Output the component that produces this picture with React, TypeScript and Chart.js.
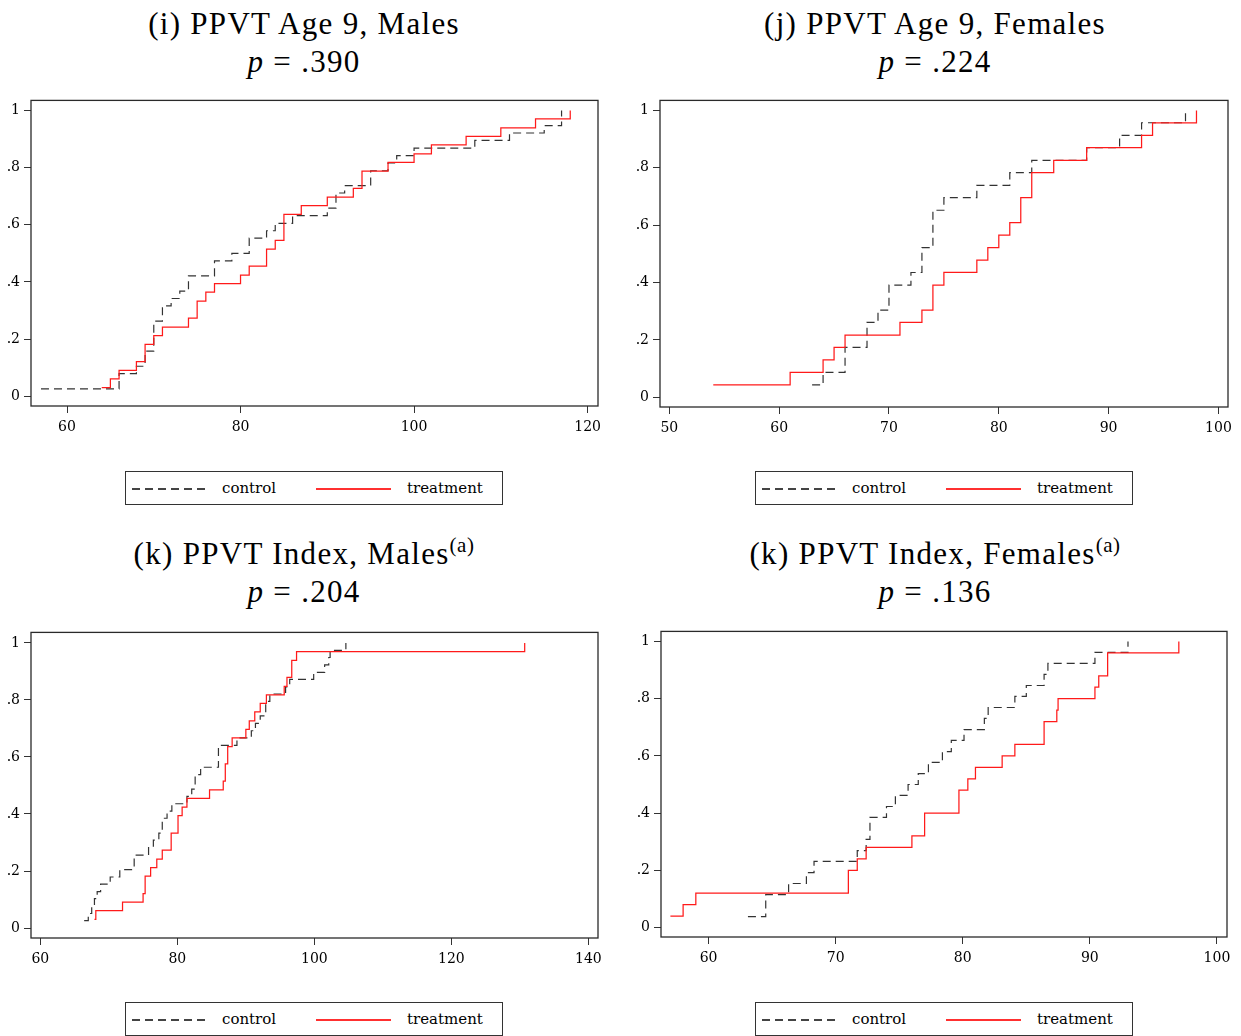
import React, { useEffect, useRef } from "react";
import { Chart, registerables } from "chart.js";

Chart.register(...registerables);

// ---------------- DATA ----------------
const yTicks = [0, 0.2, 0.4, 0.6, 0.8, 1];

// (i) PPVT Age 9, Males
const iXTicks = [60, 80, 100, 120];
const iControlX = [57, 66, 68, 69, 70, 71, 72, 73, 74, 77, 79, 81, 83, 84, 86, 90, 91, 92, 95, 97, 98, 100, 107, 111, 115, 117];
const iControlF = [0.026, 0.079, 0.105, 0.158, 0.263, 0.316, 0.342, 0.368, 0.421, 0.474, 0.5, 0.553, 0.579, 0.605, 0.632, 0.658, 0.711, 0.737, 0.789, 0.816, 0.842, 0.868, 0.895, 0.921, 0.947, 1.0];
const iTreatX = [64, 65, 66, 68, 69, 70, 71, 74, 75, 76, 77, 80, 81, 83, 84, 85, 87, 90, 93, 94, 97, 100, 102, 106, 110, 114, 118];
const iTreatF = [0.03, 0.061, 0.091, 0.121, 0.182, 0.212, 0.242, 0.273, 0.333, 0.364, 0.394, 0.424, 0.455, 0.515, 0.545, 0.636, 0.667, 0.697, 0.727, 0.788, 0.818, 0.848, 0.879, 0.909, 0.939, 0.97, 1.0];

// (j) PPVT Age 9, Females
const jXTicks = [50, 60, 70, 80, 90, 100];
const jControlX = [63, 64, 66, 68, 69, 70, 72, 73, 74, 75, 78, 81, 83, 88, 91, 93, 97];
const jControlF = [0.043, 0.087, 0.174, 0.261, 0.304, 0.391, 0.435, 0.522, 0.652, 0.696, 0.739, 0.783, 0.826, 0.87, 0.913, 0.957, 1.0];
const jTreatX = [54, 61, 64, 65, 66, 71, 73, 74, 75, 78, 79, 80, 81, 82, 83, 85, 88, 93, 94, 98];
const jTreatF = [0.043, 0.087, 0.13, 0.174, 0.217, 0.261, 0.304, 0.391, 0.435, 0.478, 0.522, 0.565, 0.609, 0.696, 0.783, 0.826, 0.87, 0.913, 0.957, 1.0];

// (k) PPVT Index, Males
const kmXTicks = [60, 80, 100, 120, 140];
const kmControlX = [66.4, 67.0, 67.5, 67.9, 68.3, 68.8, 70.2, 71.6, 73.7, 75.8, 76.5, 77.3, 77.8, 78.5, 79.2, 81.4, 82.1, 82.6, 83.4, 86.0, 88.7, 90.8, 91.4, 92.1, 92.9, 93.5, 95.8, 96.4, 99.9, 101.5, 102.1, 102.3, 104.6];
const kmControlF = [0.026, 0.051, 0.077, 0.103, 0.128, 0.154, 0.179, 0.205, 0.256, 0.282, 0.308, 0.333, 0.385, 0.41, 0.436, 0.462, 0.487, 0.538, 0.564, 0.641, 0.667, 0.692, 0.718, 0.744, 0.795, 0.821, 0.846, 0.872, 0.897, 0.923, 0.949, 0.974, 1.0];
const kmTreatX = [67.9, 68.1, 72.0, 75.0, 75.3, 76.1, 77.0, 77.8, 79.1, 80.1, 80.7, 81.4, 84.7, 86.7, 87.0, 87.35, 88.0, 90.0, 90.5, 91.3, 92.1, 93.0, 95.6, 96.0, 96.7, 97.4, 130.7];
const kmTreatF = [0.03, 0.061, 0.091, 0.121, 0.182, 0.212, 0.242, 0.273, 0.333, 0.394, 0.424, 0.455, 0.485, 0.515, 0.576, 0.636, 0.667, 0.697, 0.727, 0.758, 0.788, 0.818, 0.848, 0.879, 0.939, 0.97, 1.0];

// (k) PPVT Index, Females
const kfXTicks = [60, 70, 80, 90, 100];
const kfControlX = [63.1, 64.5, 66.3, 67.7, 68.3, 71.7, 72.4, 72.7, 74.0, 74.7, 75.7, 76.5, 77.3, 78.4, 79.1, 80.1, 81.7, 82.0, 84.1, 85.0, 86.4, 86.7, 90.4, 93.0];
const kfControlF = [0.038, 0.115, 0.154, 0.192, 0.231, 0.269, 0.308, 0.385, 0.423, 0.462, 0.5, 0.538, 0.577, 0.615, 0.654, 0.692, 0.731, 0.769, 0.808, 0.846, 0.885, 0.923, 0.962, 1.0];
const kfTreatX = [57, 58, 59, 71.0, 71.7, 72.4, 76.0, 77.0, 79.7, 80.4, 81.0, 83.1, 84.1, 86.4, 87.4, 87.5, 90.4, 90.7, 91.4, 97.0];
const kfTreatF = [0.04, 0.08, 0.12, 0.2, 0.24, 0.28, 0.32, 0.4, 0.48, 0.52, 0.56, 0.6, 0.64, 0.72, 0.76, 0.8, 0.84, 0.88, 0.96, 1.0];

const titles = [
  { line1: "(i) PPVT Age 9, Males", sup: "", p: ".390" },
  { line1: "(j) PPVT Age 9, Females", sup: "", p: ".224" },
  { line1: "(k) PPVT Index, Males", sup: "(a)", p: ".204" },
  { line1: "(k) PPVT Index, Females", sup: "(a)", p: ".136" },
];
const seriesNames = ["control", "treatment"];

// ---------------- LAYOUT ----------------
const AXIS_W = 36;
const AXIS_H = 40;
const PAD_T = 12;
const PAD_R = 22;
const TICK_FONT = { family: "'DejaVu Serif', serif", size: 14 };

const panels = [
  { area: { l: 31, r: 598, t: 100, b: 406 }, x: [55.85, 121.2], y: [-0.034, 1.035], xTicks: iXTicks, cx: iControlX, cf: iControlF, tx: iTreatX, tf: iTreatF, cx0: 304, titleTop: 0, legend: { l: 125, t: 471 } },
  { area: { l: 660, r: 1228, t: 100, b: 407 }, x: [49.15, 100.87], y: [-0.034, 1.035], xTicks: jXTicks, cx: jControlX, cf: jControlF, tx: jTreatX, tf: jTreatF, cx0: 935, titleTop: 0, legend: { l: 755, t: 471 } },
  { area: { l: 31, r: 598, t: 632, b: 938 }, x: [58.64, 141.4], y: [-0.035, 1.037], xTicks: kmXTicks, cx: kmControlX, cf: kmControlF, tx: kmTreatX, tf: kmTreatF, cx0: 304, titleTop: 530, legend: { l: 125, t: 1002 } },
  { area: { l: 661, r: 1227, t: 631, b: 937 }, x: [56.26, 100.79], y: [-0.033, 1.035], xTicks: kfXTicks, cx: kfControlX, cf: kfControlF, tx: kfTreatX, tf: kfTreatF, cx0: 935, titleTop: 530, legend: { l: 755, t: 1002 } },
];

const boxPlugin = {
  id: "boxBorder",
  afterDraw(chart: any) {
    const { ctx, chartArea: a } = chart;
    ctx.save();
    ctx.strokeStyle = "#2a2a2a";
    ctx.lineWidth = 1.3;
    ctx.strokeRect(a.left, a.top, a.right - a.left, a.bottom - a.top);
    ctx.restore();
  },
};

function PanelChart({ spec }: { spec: any }) {
  const ref = useRef<HTMLCanvasElement | null>(null);
  const a = spec.area;
  const w = a.r - a.l + AXIS_W + PAD_R;
  const h = a.b - a.t + PAD_T + AXIS_H;
  useEffect(() => {
    const chart = new Chart(ref.current as HTMLCanvasElement, {
      type: "line",
      data: {
        datasets: [
          {
            label: seriesNames[1],
            data: spec.tx.map((x: number, i: number) => ({ x, y: spec.tf[i] })),
            borderColor: "#ff1a1a",
            borderWidth: 1.25,
            stepped: "before",
            pointRadius: 0,
            fill: false,
            order: 0,
          },
          {
            label: seriesNames[0],
            data: spec.cx.map((x: number, i: number) => ({ x, y: spec.cf[i] })),
            borderColor: "#333333",
            borderWidth: 1.2,
            borderDash: [8, 5],
            stepped: "before",
            pointRadius: 0,
            fill: false,
            order: 1,
          },
        ],
      } as any,
      options: {
        animation: false,
        responsive: false,
        maintainAspectRatio: false,
        layout: { padding: { top: PAD_T, right: PAD_R, left: 0, bottom: 0 } },
        plugins: { legend: { display: false }, tooltip: { enabled: false }, title: { display: false } },
        scales: {
          x: {
            type: "linear",
            min: spec.x[0],
            max: spec.x[1],
            afterBuildTicks: (s: any) => {
              s.ticks = spec.xTicks.map((v: number) => ({ value: v }));
            },
            afterFit: (s: any) => {
              s.height = AXIS_H;
            },
            grid: { drawOnChartArea: false, drawTicks: true, tickLength: 7, color: "#333", lineWidth: 1 },
            border: { display: false },
            ticks: { font: TICK_FONT, color: "#000", padding: 6, maxRotation: 0, autoSkip: false, callback: (v: any) => String(v) },
          },
          y: {
            type: "linear",
            min: spec.y[0],
            max: spec.y[1],
            afterBuildTicks: (s: any) => {
              s.ticks = yTicks.map((v: number) => ({ value: v }));
            },
            afterFit: (s: any) => {
              s.width = AXIS_W;
            },
            grid: { drawOnChartArea: false, drawTicks: true, tickLength: 7, color: "#333", lineWidth: 1 },
            border: { display: false },
            ticks: {
              font: TICK_FONT,
              color: "#000",
              padding: 4,
              autoSkip: false,
              callback: (v: any) => (v === 0 ? "0" : v === 1 ? "1" : "." + Math.round(Number(v) * 10)),
            },
          },
        },
      } as any,
      plugins: [boxPlugin],
    });
    return () => chart.destroy();
  }, []);
  return (
    <canvas
      ref={ref}
      width={w}
      height={h}
      style={{ position: "absolute", left: a.l - AXIS_W, top: a.t - PAD_T, width: w, height: h }}
    />
  );
}

const TITLE_FONT = "'Liberation Serif', 'Times New Roman', serif";

function Title({ spec, t }: { spec: any; t: any }) {
  const base: React.CSSProperties = {
    position: "absolute",
    left: spec.cx0 - 310,
    width: 620,
    textAlign: "center",
    fontFamily: TITLE_FONT,
    fontSize: 31,
    lineHeight: "31px",
    letterSpacing: "1.3px",
    color: "#000",
    whiteSpace: "nowrap",
  };
  return (
    <>
      <div style={{ ...base, top: spec.titleTop + 8 }}>
        {t.line1}
        {t.sup ? (
          <span style={{ fontSize: 21, position: "relative", top: -12, letterSpacing: "0.5px" }}>{t.sup}</span>
        ) : null}
      </div>
      <div style={{ ...base, top: spec.titleTop + 46 }}>
        <i>p</i> = {t.p}
      </div>
    </>
  );
}

function Legend({ l, t }: { l: number; t: number }) {
  const txt: React.CSSProperties = {
    position: "absolute",
    top: 6,
    fontFamily: "'DejaVu Serif', serif",
    fontSize: 15,
    lineHeight: "20px",
    color: "#000",
    whiteSpace: "nowrap",
  };
  return (
    <div
      style={{
        position: "absolute",
        left: l,
        top: t,
        width: 378,
        height: 34,
        border: "1px solid #333",
        boxSizing: "border-box",
        background: "#fff",
      }}
    >
      <div
        style={{
          position: "absolute",
          left: 6,
          top: 16,
          width: 76,
          height: 1.5,
          background: "repeating-linear-gradient(90deg, #444 0px, #444 8px, transparent 8px, transparent 13px)",
        }}
      />
      <div style={{ ...txt, left: 96 }}>{seriesNames[0]}</div>
      <div style={{ position: "absolute", left: 190, top: 16, width: 75, height: 1.5, background: "#ff3030" }} />
      <div style={{ ...txt, left: 281 }}>{seriesNames[1]}</div>
    </div>
  );
}

export default function App() {
  return (
    <div
      style={{
        position: "absolute",
        left: 0,
        top: 0,
        width: 1241,
        height: 1036,
        overflow: "hidden",
        background: "#fff",
      }}
    >
      {panels.map((p, i) => (
        <React.Fragment key={i}>
          <Title spec={p} t={titles[i]} />
          <PanelChart spec={p} />
          <Legend l={p.legend.l} t={p.legend.t} />
        </React.Fragment>
      ))}
    </div>
  );
}
